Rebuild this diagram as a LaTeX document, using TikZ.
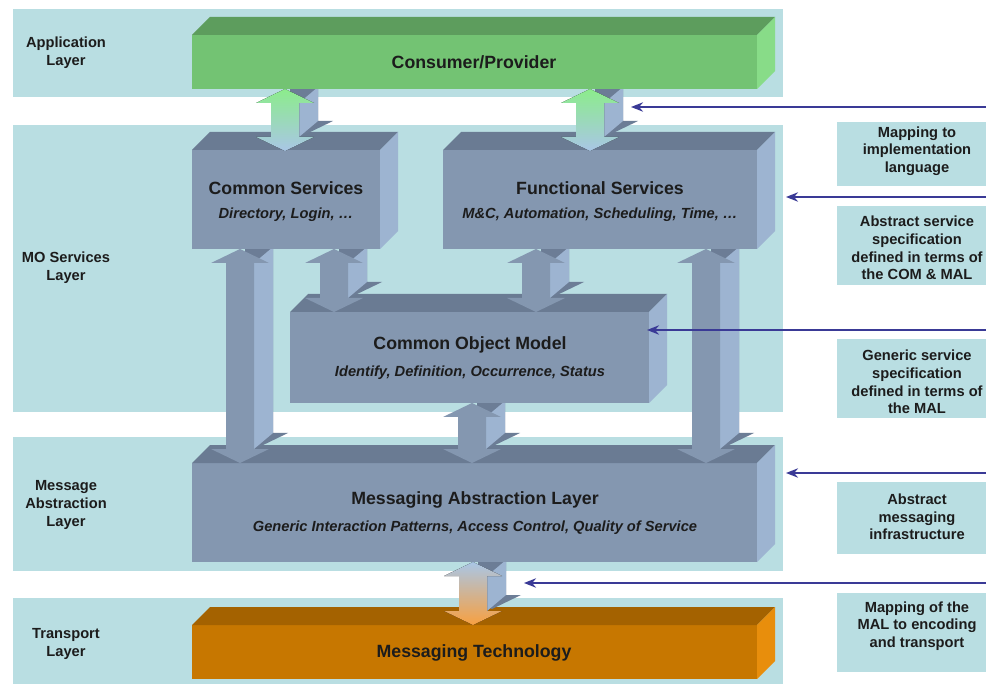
\documentclass[tikz,border=0pt]{standalone}
\usepackage{fontspec}
\setmainfont{Liberation Sans}
\usetikzlibrary{arrows.meta}
\definecolor{band}{HTML}{B9DEE2}
\definecolor{blfront}{HTML}{8497B0}
\definecolor{bltop}{HTML}{6A7B93}
\definecolor{blright}{HTML}{9DB4D1}
\definecolor{grfront}{HTML}{73C373}
\definecolor{grtop}{HTML}{5D9D5D}
\definecolor{grright}{HTML}{88DC88}
\definecolor{orfront}{HTML}{C77700}
\definecolor{ortop}{HTML}{A46200}
\definecolor{orright}{HTML}{E88E0C}
\definecolor{arrdarkc}{HTML}{6C7D96}
\definecolor{navy}{HTML}{3A3A96}
\definecolor{txt}{HTML}{1C1C1C}
\definecolor{gradgreen}{HTML}{8CEC8C}
\definecolor{gradblue}{HTML}{A9C6E6}
\definecolor{gradorange}{HTML}{F8A040}
\newcommand\boxthreed[7]{%
  \fill[#5] (#1,#2) rectangle (#3,#4);
  \fill[#6] (#1,#2) -- ({#1+18},{#2-18}) -- ({#3+18},{#2-18}) -- (#3,#2) -- cycle;
  \fill[#7] (#3,#2) -- ({#3+18},{#2-18}) -- ({#3+18},{#4-18}) -- (#3,#4) -- cycle;
}
\newcommand\dblarr[5]{%
  \begin{scope}[shift={(19,-16)}]
  \fill[arrdarkc] (#1,#2) -- ({#1+29},{#2+14}) -- ({#1+14},{#2+14}) -- ({#1+14},{#3-14}) -- ({#1+29},{#3-14}) -- (#1,#3) -- ({#1-29},{#3-14}) -- ({#1-14},{#3-14}) -- ({#1-14},{#2+14}) -- ({#1-29},{#2+14}) -- cycle;
  \end{scope}
  \fill[#5] ({#1+14},{#2+14}) -- ({#1+33},{#2-2}) -- ({#1+33},{#3-30}) -- ({#1+14},{#3-14}) -- cycle;
  \fill[#4] (#1,#2) -- ({#1+29},{#2+14}) -- ({#1+14},{#2+14}) -- ({#1+14},{#3-14}) -- ({#1+29},{#3-14}) -- (#1,#3) -- ({#1-29},{#3-14}) -- ({#1-14},{#3-14}) -- ({#1-14},{#2+14}) -- ({#1-29},{#2+14}) -- cycle;
}
\tikzset{
  title/.style={inner sep=0pt, text=txt, font=\fontsize{13.3}{16}\selectfont\bfseries},
  subtitle/.style={inner sep=0pt, text=txt, font=\fontsize{11}{13}\selectfont\bfseries\itshape},
  lbl/.style={inner sep=0pt, text=txt, align=center, font=\fontsize{11}{13.3}\selectfont\bfseries},
  bluearr/.style={draw=navy, line width=1.6pt, -{Stealth[length=9pt,width=7pt]}},
}
\begin{document}
\begin{tikzpicture}[x=0.75pt, y=-0.75pt]
\useasboundingbox (0,0) rectangle (986,684);
\fill[white] (0,0) rectangle (986,684);
% layer bands
\fill[band] (13,9) rectangle (783,97);
\fill[band] (13,125) rectangle (783,412);
\fill[band] (13,437) rectangle (783,571);
\fill[band] (13,598) rectangle (783,684);
% right label boxes
\fill[band] (837,122) rectangle (986,186);
\fill[band] (837,206) rectangle (986,285);
\fill[band] (837,339) rectangle (986,418);
\fill[band] (837,482) rectangle (986,554);
\fill[band] (837,593) rectangle (986,672);
% Messaging Technology
\boxthreed{192}{625}{757}{679}{orfront}{ortop}{orright}
\dblarr{473}{562}{625}{top color=gradblue, bottom color=gradorange}{blright}
% MAL
\boxthreed{192}{463}{757}{562}{blfront}{bltop}{blright}
\dblarr{240}{249}{463}{blfront}{blright}
\dblarr{706}{249}{463}{blfront}{blright}
\dblarr{472}{403}{463}{blfront}{blright}
% COM
\boxthreed{290}{312}{649}{403}{blfront}{bltop}{blright}
\dblarr{334}{249}{312}{blfront}{blright}
\dblarr{536}{249}{312}{blfront}{blright}
% Common / Functional services
\boxthreed{192}{150}{380}{249}{blfront}{bltop}{blright}
\boxthreed{443}{150}{757}{249}{blfront}{bltop}{blright}
\dblarr{285}{89}{151}{top color=gradgreen, bottom color=gradblue}{blright}
\dblarr{590}{89}{151}{top color=gradgreen, bottom color=gradblue}{blright}
% Consumer/Provider
\boxthreed{192}{35}{757}{89}{grfront}{grtop}{grright}
% box texts
\node[title] (cp) at (474,62) {Consumer/Provider};
\node[title] (cs) at (286,188) {Common Services};
\node[subtitle] (css) at (286,215) {Directory, Login, \dots};
\node[title] (fs) at (600,188) {Functional Services};
\node[subtitle] (fss) at (600,215) {M\&C, Automation, Scheduling, Time, \dots};
\node[title] (com) at (470,345) {Common Object Model};
\node[subtitle] (coms) at (470,373) {Identify, Definition, Occurrence, Status};
\node[title] (mal) at (475,500) {Messaging Abstraction Layer};
\node[subtitle] (mals) at (475,528) {Generic Interaction Patterns, Access Control, Quality of Service};
\node[title] (mt) at (474,653) {Messaging Technology};
% layer labels
\node[lbl] (l1) at (66,53) {Application\\Layer};
\node[lbl] (l2) at (66,268) {MO Services\\Layer};
\node[lbl] (l3) at (66,505) {Message\\Abstraction\\Layer};
\node[lbl] (l4) at (66,644) {Transport\\Layer};
% right labels
\node[lbl] (r1) at (917,151) {Mapping to\\implementation\\language};
\node[lbl] (r2) at (917,248) {Abstract service\\specification\\defined in terms of\\the COM \& MAL};
\node[lbl] (r3) at (917,382) {Generic service\\specification\\defined in terms of\\the MAL};
\node[lbl] (r4) at (917,517) {Abstract\\messaging\\infrastructure};
\node[lbl] (r5) at (917,626) {Mapping of the\\MAL to encoding\\and transport};
% blue arrows
\coordinate (s1) at (986,107); \coordinate (e1) at (631,107);
\coordinate (s2) at (986,197); \coordinate (e2) at (786,197);
\coordinate (s3) at (986,330); \coordinate (e3) at (647,330);
\coordinate (s4) at (986,473); \coordinate (e4) at (786,473);
\coordinate (s5) at (986,583); \coordinate (e5) at (524,583);
\draw[bluearr] (s1) -- (e1);
\draw[bluearr] (s2) -- (e2);
\draw[bluearr] (s3) -- (e3);
\draw[bluearr] (s4) -- (e4);
\draw[bluearr] (s5) -- (e5);
\end{tikzpicture}
\end{document}
